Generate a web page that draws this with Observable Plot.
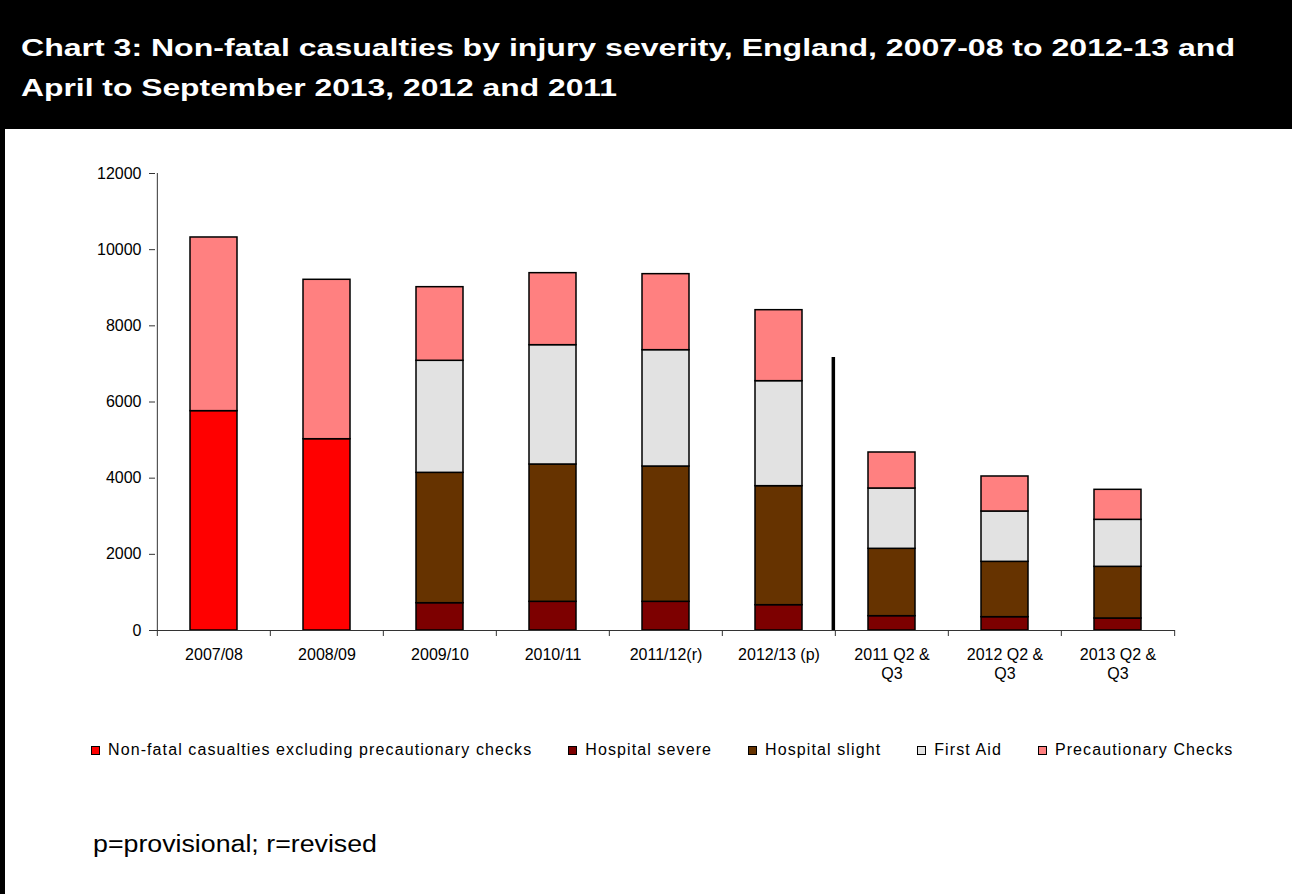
<!DOCTYPE html>
<html>
<head>
<meta charset="utf-8">
<script src="https://cdn.jsdelivr.net/npm/d3@7"></script>
<script src="https://cdn.jsdelivr.net/npm/@observablehq/plot@0.6"></script>
<style>
  body { margin: 0; background: #fff; font-family: "Liberation Sans", Arial, sans-serif; }
  #page { position: relative; width: 1292px; height: 894px; overflow: hidden; background: #fff; }
  #header { position: absolute; left: 0; top: 0; width: 1292px; height: 129px; background: #000; color: #fff; }
  .tline { position: absolute; left: 21px; font-weight: bold; font-size: 23px; line-height: 38px; white-space: nowrap; transform-origin: 0 0; }
  #leftborder { position: absolute; left: 0; top: 0; width: 5px; height: 894px; background: #000; }
  #chart { position: absolute; left: 0; top: 129px; }
  #legend { position: absolute; left: 91px; top: 740px; display: flex; gap: 36px; font-size: 16px; letter-spacing: 1.1px; line-height: 20px; white-space: nowrap; color: #000; }
  .item { display: flex; align-items: center; }
  .sw { width: 7px; height: 7px; border: 1px solid #000; margin-right: 8px; }
  #caption { position: absolute; left: 93px; top: 833px; font-size: 23px; line-height: 23px; white-space: nowrap; transform-origin: 0 0; color: #000; }
</style>
</head>
<body>
<div id="page">
  <div id="header">
    <div class="tline" id="t1" style="top:29px">Chart 3: Non-fatal casualties by injury severity, England, 2007-08 to 2012-13 and</div>
    <div class="tline" id="t2" style="top:69px">April to September 2013, 2012 and 2011</div>
  </div>
  <div id="leftborder"></div>
  <div id="chart"></div>
  <div id="legend"></div>
  <div id="caption">p=provisional; r=revised</div>
</div>
<script>
// ---- data ----
const categories = ["2007/08", "2008/09", "2009/10", "2010/11", "2011/12(r)", "2012/13 (p)", "2011 Q2 & Q3", "2012 Q2 & Q3", "2013 Q2 & Q3"];
const tickLabels = ["2007/08", "2008/09", "2009/10", "2010/11", "2011/12(r)", "2012/13 (p)", "2011 Q2 &\nQ3", "2012 Q2 &\nQ3", "2013 Q2 &\nQ3"];
const seriesNames = ["Non-fatal casualties excluding precautionary checks", "Hospital severe", "Hospital slight", "First Aid", "Precautionary Checks"];
const seriesColors = ["#ff0000", "#7d0000", "#663300", "#e2e2e2", "#ff8080"];
const nonFatalExcl  = [5760, 5023, null, null, null, null, null, null, null];
const hospitalSevere = [null, null, 717, 753, 753, 665, 376, 350, 315];
const hospitalSlight = [null, null, 3423, 3606, 3553, 3125, 1769, 1453, 1357];
const firstAid       = [null, null, 2942, 3133, 3055, 2757, 1584, 1322, 1234];
const precautionary  = [4560, 4186, 1933, 1891, 1996, 1864, 945, 919, 788];
const yTicks = [0, 2000, 4000, 6000, 8000, 10000, 12000];
const separatorTop = 7220; // height of the divider line between annual and half-year figures

const seriesValues = [nonFatalExcl, hospitalSevere, hospitalSlight, firstAid, precautionary];
const rows = [];
categories.forEach((c, i) => {
  seriesNames.forEach((s, k) => {
    const v = seriesValues[k][i];
    if (v != null) rows.push({category: c, series: s, value: v});
  });
});
const labelOf = new Map(categories.map((c, i) => [c, tickLabels[i]]));

// ---- layout ----
const W = 1292, H = 560;
const mL = 155, mR = 117, mT = 44, mB = 59;
const step = (W - mL - mR) / categories.length;
const half = step / 2;

const chart = Plot.plot({
  width: W, height: H,
  marginLeft: mL, marginRight: mR, marginTop: mT, marginBottom: mB,
  style: {fontFamily: "'Liberation Sans', Arial, sans-serif", fontSize: "16px", color: "#000", background: "transparent", overflow: "visible"},
  x: {type: "band", domain: categories, paddingInner: 0.585, paddingOuter: 0.2925, axis: null},
  y: {domain: [0, 12000], axis: null},
  color: {domain: seriesNames, range: seriesColors},
  marks: [
    Plot.barY(rows, {x: "category", y: "value", fill: "series", order: seriesNames, stroke: "#000", strokeWidth: 1.5}),
    Plot.axisY({ticks: yTicks, tickFormat: d3.format("d"), tickSize: 6, tickPadding: 8, label: null, stroke: "#333", fontSize: 16, style: {letterSpacing: "0.5px"}}),
    Plot.axisX({tickSize: 0, tickPadding: 16, tickFormat: d => labelOf.get(d), label: null, fontSize: 16, lineHeight: 1.2, style: {letterSpacing: "0.6px"}}),
    Plot.ruleY([0], {stroke: "#333"}),
    // y-axis line at the left edge of the first band
    Plot.ruleX([categories[0]], {y1: 0, y2: 12000, dx: -half, stroke: "#333"}),
    // category boundary ticks
    Plot.ruleX(categories, {y1: 0, y2: 0, insetBottom: -6, dx: -half, stroke: "#333"}),
    Plot.ruleX([categories[categories.length - 1]], {y1: 0, y2: 0, insetBottom: -6, dx: half, stroke: "#333"}),
    // divider
    Plot.ruleX([categories[6]], {y1: 0, y2: separatorTop, dx: -half - 2, stroke: "#000", strokeWidth: 3.5, insetBottom: -2})
  ]
});
document.getElementById("chart").appendChild(chart);

// ---- legend ----
const legend = document.getElementById("legend");
seriesNames.forEach((s, k) => {
  const it = document.createElement("div");
  it.className = "item";
  const sw = document.createElement("span");
  sw.className = "sw";
  sw.style.background = seriesColors[k];
  const t = document.createElement("span");
  t.textContent = s;
  it.appendChild(sw); it.appendChild(t);
  legend.appendChild(it);
});

// ---- stretch header/caption text to the reference widths ----
function fit(id, target) {
  const el = document.getElementById(id);
  const w = el.getBoundingClientRect().width;
  el.style.transform = `scaleX(${target / w})`;
}
fit("t1", 1214);
fit("t2", 596);
fit("caption", 284);
</script>
</body>
</html>
